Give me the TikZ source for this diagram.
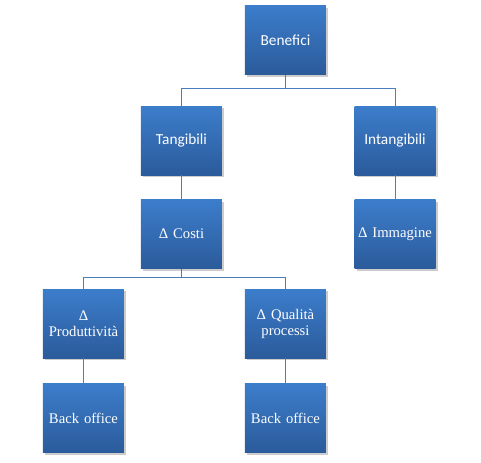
\documentclass[tikz,border=0pt]{standalone}
\usepackage{fontspec}
\setmainfont{Liberation Serif}
\newfontfamily\calibrifont{Carlito}
\usetikzlibrary{positioning, shadows}

\definecolor{boxtop}{RGB}{60,125,203}
\definecolor{boxbottom}{RGB}{43,91,155}
\definecolor{linkblue}{RGB}{74,126,187}

\begin{document}
\begin{tikzpicture}[
        node distance=18pt,
        block/.style={rectangle, top color=boxtop, bottom color=boxbottom, text=white, minimum width=60.75pt, minimum height=51.75pt, text width=58pt, inner sep=0pt, align=center, font=\fontsize{11}{12}\selectfont, drop shadow={shadow xshift=1.5pt, shadow yshift=-1.5pt, fill=black!40, opacity=0.5}},
        sansblock/.style={block, font=\calibrifont\fontsize{11.5}{13}\selectfont},
        link/.style={linkblue, line width=0.75pt}
    ]
        \useasboundingbox (0,0) rectangle (360.75pt,-346.5pt);

        \node[sansblock] (tangibili) at (136.1pt,-105.4pt) {Tangibili};
        \node[sansblock, above=23.25pt of tangibili, xshift=78pt] (benefici) {Benefici};
        \node[sansblock, right=99pt of tangibili] (intangibili) {Intangibili};
        \node[block, below=of tangibili] (costi) {Δ Costi};
        \node[block, below=of intangibili] (immagine) {Δ Immagine};
        \node[block, below=15pt of costi, xshift=-73.5pt] (produttivita) {Δ\\Produttività};
        \node[block, below=15pt of costi, xshift=78pt] (qualita) {Δ Qualità\\processi};
        \node[block, below=18.75pt of produttivita] (backoffice1) {Back office};
        \node[block, below=18.75pt of qualita] (backoffice2) {Back office};

        \draw[link] (benefici.south) -- ++(0,-10.5pt) -| (tangibili.north);
        \draw[link] (benefici.south) -- ++(0,-10.5pt) -| (intangibili.north);
        \draw[link] (tangibili.south) -- (costi.north);
        \draw[link] (intangibili.south) -- (immagine.north);
        \draw[link] (costi.south) -- ++(0,-6.75pt) -| (produttivita.north);
        \draw[link] (costi.south) -- ++(0,-6.75pt) -| (qualita.north);
        \draw[link] (produttivita.south) -- (backoffice1.north);
        \draw[link] (qualita.south) -- (backoffice2.north);
    \end{tikzpicture}
\end{document}
